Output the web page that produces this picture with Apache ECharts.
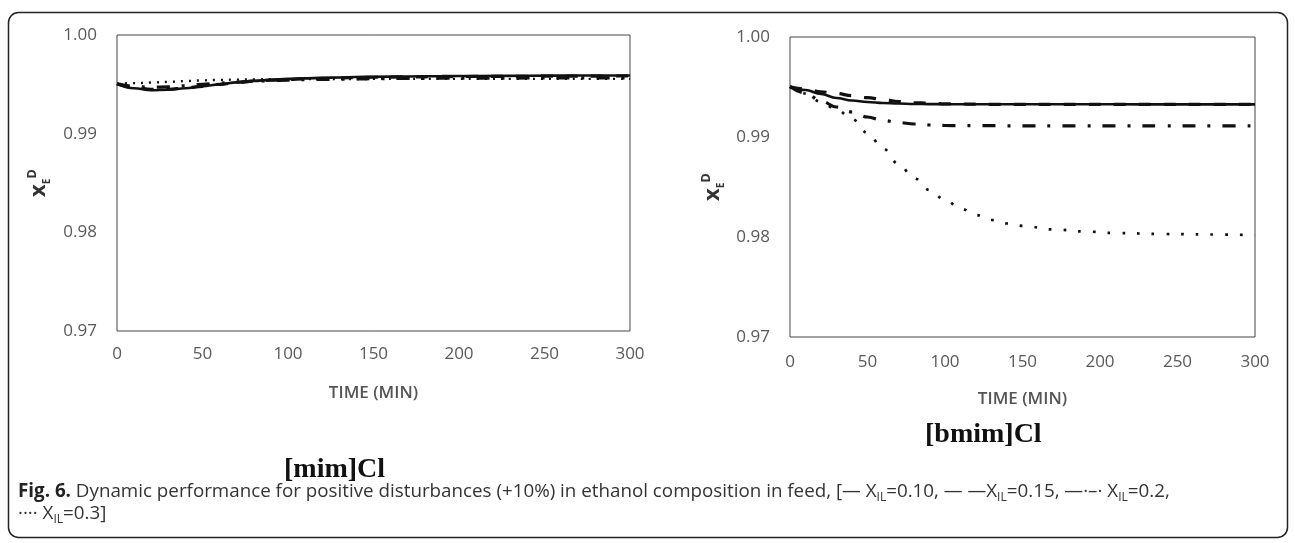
<!DOCTYPE html>
<html>
<head>
<meta charset="utf-8">
<script src="https://cdn.jsdelivr.net/npm/echarts@6/dist/echarts.min.js"></script>
<style>
  html, body { margin: 0; padding: 0; background: #fff; }
  #chart { width: 1295px; height: 543px; }
</style>
</head>
<body>
<div id="chart"></div>
<script>
// time axis (min)
var time = [0, 10, 20, 30, 40, 50, 60, 70, 80, 90, 100, 110, 120, 130, 140, 150, 170, 190, 210, 240, 270, 300];
var xTicks = [0, 50, 100, 150, 200, 250, 300];
var yTicks = [0.97, 0.98, 0.99, 1.00];

// [mim]Cl
var mimIL010 = [0.99505, 0.9946, 0.9944, 0.99445, 0.9946, 0.9948, 0.995, 0.9952, 0.99535, 0.99545, 0.99555, 0.9956, 0.99565, 0.9957, 0.99574, 0.99577, 0.9958, 0.99583, 0.99585, 0.99587, 0.99589, 0.9959];
var mimIL015 = [0.99505, 0.99468, 0.9945, 0.9945, 0.99462, 0.9948, 0.995, 0.99518, 0.99532, 0.99542, 0.9955, 0.99556, 0.9956, 0.99565, 0.99569, 0.99572, 0.99575, 0.99578, 0.9958, 0.99582, 0.99584, 0.99585];
var mimIL020 = [0.99505, 0.9948, 0.9947, 0.99475, 0.99485, 0.995, 0.99512, 0.99522, 0.9953, 0.99538, 0.99543, 0.99547, 0.9955, 0.99553, 0.99555, 0.99557, 0.9956, 0.99562, 0.99563, 0.99564, 0.99565, 0.99565];
var mimIL030 = [0.99505, 0.99512, 0.99518, 0.99525, 0.99533, 0.9954, 0.99545, 0.99548, 0.9955, 0.99552, 0.99553, 0.99553, 0.99554, 0.99554, 0.99554, 0.99555, 0.99555, 0.99555, 0.99555, 0.99555, 0.99555, 0.99555];

// [bmim]Cl
var bmimIL010 = [0.99503, 0.9947, 0.9943, 0.9939, 0.99365, 0.9935, 0.9934, 0.99335, 0.9933, 0.99329, 0.99328, 0.99327, 0.99327, 0.99327, 0.99327, 0.99327, 0.99327, 0.99327, 0.99327, 0.99326, 0.99326, 0.99326];
var bmimIL015 = [0.99503, 0.9948, 0.99452, 0.99435, 0.99413, 0.99393, 0.99375, 0.99355, 0.99345, 0.99337, 0.99332, 0.9933, 0.99328, 0.99327, 0.99327, 0.99327, 0.99327, 0.99327, 0.99327, 0.99326, 0.99326, 0.99326];
var bmimIL020 = [0.99503, 0.9944, 0.9936, 0.993, 0.9925, 0.992, 0.99165, 0.99145, 0.9913, 0.9912, 0.99115, 0.99114, 0.99113, 0.99113, 0.99112, 0.99112, 0.99112, 0.99112, 0.99112, 0.99112, 0.99112, 0.99112];
var bmimIL030 = [0.99503, 0.99435, 0.9935, 0.99275, 0.9918, 0.9904, 0.98885, 0.9873, 0.9859, 0.9847, 0.9837, 0.98285, 0.9822, 0.9817, 0.98135, 0.98112, 0.98075, 0.98055, 0.9804, 0.9803, 0.98025, 0.9802];

function pairs(ys) {
    var out = [];
    for (var i = 0; i < time.length; i++) {
        out.push([time[i], ys[i]]);
    }
    return out;
}

var tickColor = '#595959';
var tickFont = 'Open Sans';

function xAxisFor(gridIndex, margin, gap) {
    return {
        type: 'value', gridIndex: gridIndex,
        min: xTicks[0], max: xTicks[xTicks.length - 1], interval: 50,
        name: 'TIME (MIN)', nameLocation: 'middle', nameGap: gap,
        nameTextStyle: { color: '#555', fontSize: 17, fontWeight: 600, fontFamily: tickFont },
        axisLine: { show: false }, axisTick: { show: false }, splitLine: { show: false },
        axisLabel: { color: tickColor, fontSize: 17, fontFamily: tickFont, margin: margin }
    };
}

function yAxisFor(gridIndex, gap) {
    return {
        type: 'value', gridIndex: gridIndex,
        min: yTicks[0], max: yTicks[yTicks.length - 1], interval: 0.01,
        name: '{x|x}{sub|E}{sup|D}', nameLocation: 'middle', nameRotate: 90, nameGap: gap,
        nameTextStyle: {
            rich: {
                x: { fontSize: 22, fontWeight: 'bold', color: '#333', fontFamily: tickFont, lineHeight: 26 },
                sub: { fontSize: 10, fontWeight: 'bold', color: '#333', fontFamily: tickFont, verticalAlign: 'bottom', lineHeight: 10 },
                sup: { fontSize: 13, fontWeight: 'bold', color: '#333', fontFamily: tickFont, verticalAlign: 'top', lineHeight: 13 }
            }
        },
        axisLine: { show: false }, axisTick: { show: false }, splitLine: { show: false },
        axisLabel: {
            color: tickColor, fontSize: 17, fontFamily: tickFont, margin: 20,
            formatter: function (v) { return v.toFixed(2); }
        }
    };
}

var solid = { color: '#111', width: 2.6, type: 'solid' };
var dashed = { color: '#111', width: 3.2, type: [12, 13] };
var dashDot = { color: '#111', width: 3.2, type: [13, 12, 3, 12] };

function line(name, idx, ys, style) {
    return {
        name: name, type: 'line', xAxisIndex: idx, yAxisIndex: idx,
        data: pairs(ys), symbol: 'none', smooth: 0.4, smoothMonotone: 'x',
        lineStyle: style, z: 3
    };
}

var capRich = {
    b: { fontFamily: 'Open Sans', fontSize: 18.8, fontWeight: 'bold', fill: '#222', lineHeight: 24 },
    s: { fontFamily: 'Open Sans', fontSize: 12, fill: '#333', verticalAlign: 'bottom', lineHeight: 12 }
};

var chart = echarts.init(document.getElementById('chart'));

var option = {
    backgroundColor: '#fff',
    animation: false,
    grid: [
        { left: 117, top: 35, width: 513, height: 296, show: true, borderColor: '#444', borderWidth: 1, backgroundColor: 'transparent' },
        { left: 790, top: 37, width: 465, height: 300, show: true, borderColor: '#444', borderWidth: 1, backgroundColor: 'transparent' }
    ],
    xAxis: [xAxisFor(0, 15, 54), xAxisFor(1, 17, 54)],
    yAxis: [yAxisFor(0, 65), yAxisFor(1, 64)],
    series: [
        line('X_IL=0.10', 0, mimIL010, solid),
        line('X_IL=0.15', 0, mimIL015, dashed),
        line('X_IL=0.2', 0, mimIL020, dashDot),
        line('X_IL=0.3', 0, mimIL030, { color: '#111', width: 2.4, type: [2, 6] }),
        line('X_IL=0.10', 1, bmimIL010, solid),
        line('X_IL=0.15', 1, bmimIL015, dashed),
        line('X_IL=0.2', 1, bmimIL020, dashDot),
        line('X_IL=0.3', 1, bmimIL030, { color: '#111', width: 2.7, type: [2.7, 12] })
    ],
    graphic: [
        {
            type: 'rect', silent: true,
            shape: { x: 8.5, y: 12.5, width: 1279, height: 525, r: 10 },
            style: { fill: 'none', stroke: '#222', lineWidth: 1.5 }
        },
        {
            type: 'text', left: 284, top: 456,
            style: { text: '[mim]Cl', font: 'bold 28px "Liberation Serif"', fill: '#111' }
        },
        {
            type: 'text', left: 925, top: 421,
            style: { text: '[bmim]Cl', font: 'bold 28px "Liberation Serif"', fill: '#111' }
        },
        {
            type: 'text', left: 18, top: 480,
            style: {
                text: '{b|Fig. 6.} Dynamic performance for positive disturbances (+10%) in ethanol composition in feed, [— X{s|IL}=0.10, — —X{s|IL}=0.15, —·–· X{s|IL}=0.2,',
                fontFamily: 'Open Sans', fontSize: 18.8, fill: '#333', lineHeight: 24,
                rich: capRich
            }
        },
        {
            type: 'text', left: 18, top: 502,
            style: {
                text: '···· X{s|IL}=0.3]',
                fontFamily: 'Open Sans', fontSize: 18.8, fill: '#333', lineHeight: 24,
                rich: capRich
            }
        }
    ]
};

chart.setOption(option);
</script>
</body>
</html>
